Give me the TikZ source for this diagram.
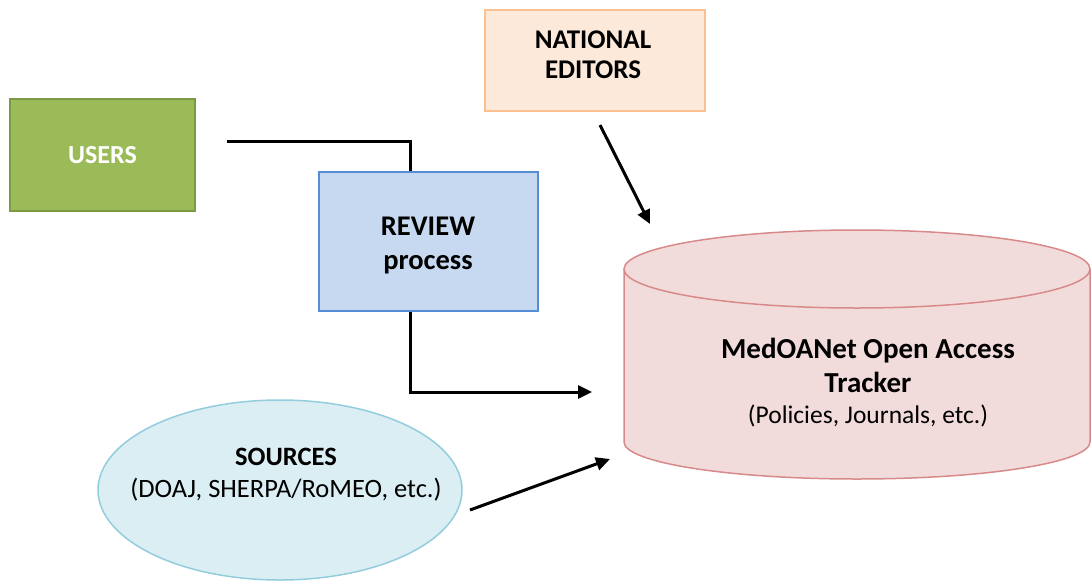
\documentclass[tikz,border=0pt]{standalone}
\usepackage{fontspec}
\setmainfont{Carlito}
\usetikzlibrary{arrows.meta,shapes.geometric}
\definecolor{usersfill}{HTML}{9BBB59}
\definecolor{usersdraw}{HTML}{7A9A44}
\definecolor{edfill}{HTML}{FDE9D9}
\definecolor{eddraw}{HTML}{FAC090}
\definecolor{revfill}{HTML}{C6D9F1}
\definecolor{revdraw}{HTML}{558ED5}
\definecolor{srcfill}{HTML}{DAEEF3}
\definecolor{srcdraw}{HTML}{93CDDD}
\definecolor{dbfill}{HTML}{F2DCDB}
\definecolor{dbdraw}{HTML}{D88A8A}
\tikzset{
  txt/.style={font=\fontsize{26}{32}\selectfont, align=center},
  boxnode/.style={txt, rectangle, line width=1.5pt, inner sep=0pt},
  conn/.style={line width=3pt, black},
  arr/.style={conn, -{Triangle[length=14pt,width=13pt]}},
}
\begin{document}
\begin{tikzpicture}[x=1pt,y=-1pt]
\useasboundingbox (0,0) rectangle (1092,581);
% nodes
\node[boxnode, fill=usersfill, draw=usersdraw, text=white, minimum width=185, minimum height=112] (users) at (102.5,155) {\bfseries USERS};
\node[boxnode, fill=edfill, draw=eddraw, minimum width=220, minimum height=101] (editors) at (595,60.5) {};
\node[txt, font=\fontsize{27}{30}\selectfont\bfseries] (edtext) at (593,55) {NATIONAL\\EDITORS};
\node[boxnode, fill=revfill, draw=revdraw, minimum width=219, minimum height=139] (review) at (428.5,241.5) {};
\node[txt, font=\fontsize{28.5}{34}\selectfont\bfseries] (revtext) at (428,245) {REVIEW\\process};
\node[ellipse, fill=srcfill, draw=srcdraw, line width=1.5pt, minimum width=364, minimum height=180, inner sep=0pt] (sources) at (280,490) {};
\node[txt, font=\fontsize{26.5}{32}\selectfont] (srctext) at (286,475) {\bfseries SOURCES\\(DOAJ, SHERPA/RoMEO, etc.)};
% cylinder
\fill[dbfill] (624,269) -- (624,442) arc[start angle=180, end angle=0, x radius=233, y radius=37] -- (1090,269) -- cycle;
\draw[dbdraw, line width=1.5pt] (624,269) -- (624,442) arc[start angle=180, end angle=0, x radius=233, y radius=37] -- (1090,269);
\node[ellipse, fill=dbfill, draw=dbdraw, line width=1.5pt, minimum width=466, minimum height=78, inner sep=0pt] (dbtop) at (857,269) {};
\node[txt, font=\fontsize{29}{34}\selectfont] (tracker) at (868,383) {\bfseries MedOANet Open Access\\\bfseries Tracker\\[-3pt]{\fontsize{25.5}{28}\selectfont(Policies, Journals, etc.)}};
% free ends
\coordinate (uStart) at (227,141);
\coordinate (uBend) at (410,141);
\coordinate (rBend) at (410,392);
\coordinate (rEnd) at (592,392);
\coordinate (eStart) at (600,125);
\coordinate (eEnd) at (650,224);
\coordinate (sStart) at (470,510);
\coordinate (sEnd) at (610,459);
% connectors
\draw[conn] (uStart) -- (uBend) -- (uBend |- review.north);
\draw[arr] (review.south -| rBend) -- (rBend) -- (rEnd);
\draw[arr] (eStart) -- (eEnd);
\draw[arr] (sStart) -- (sEnd);
\end{tikzpicture}
\end{document}
